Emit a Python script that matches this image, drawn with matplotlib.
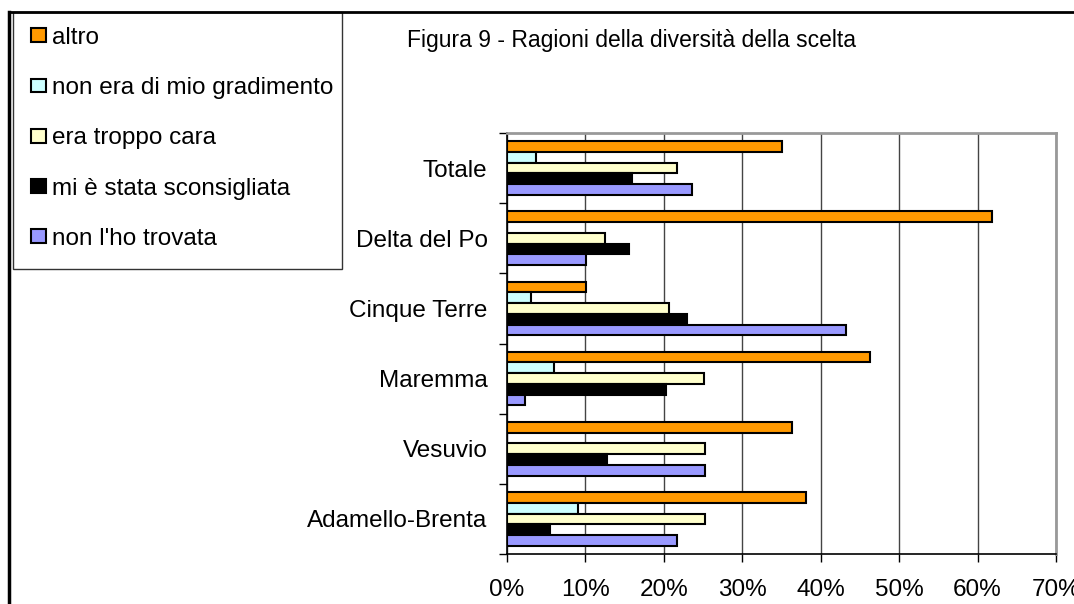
import matplotlib
matplotlib.use('Agg')
import matplotlib.pyplot as plt
import numpy as np
from matplotlib.ticker import PercentFormatter, FixedLocator
from matplotlib.patches import Rectangle
from matplotlib.lines import Line2D

plt.rcParams['font.family'] = ['Liberation Sans', 'DejaVu Sans']

categories = ['Adamello-Brenta', 'Vesuvio', 'Maremma', 'Cinque Terre', 'Delta del Po', 'Totale']
series_names = ['altro', 'non era di mio gradimento', 'era troppo cara',
                'mi è stata sconsigliata', "non l'ho trovata"]
altro = [38.1, 36.4, 46.3, 10.1, 61.8, 35.0]
non_gradimento = [9.1, 0.0, 6.0, 3.1, 0.0, 3.7]
troppo_cara = [25.3, 25.3, 25.1, 20.7, 12.5, 21.7]
sconsigliata = [5.5, 12.8, 20.3, 23.0, 15.5, 16.0]
non_trovata = [21.7, 25.3, 2.3, 43.2, 10.1, 23.6]
colors = ['#FF9900', '#CCFFFF', '#FFFFCC', '#000000', '#9999FF']

W, H = 1074, 604
fig = plt.figure(figsize=(W / 100, H / 100), dpi=100)
ax = fig.add_axes([507 / W, 1 - 554 / H, (1056 - 507) / W, (554 - 133) / H])

y = np.arange(len(categories))
h = 0.153
handles = []
for i, (vals, col, name) in enumerate(zip(
        [altro, non_gradimento, troppo_cara, sconsigliata, non_trovata], colors, series_names)):
    b = ax.barh(y + (2 - i) * h, vals, height=h, color=col, edgecolor='black',
                linewidth=1.5, label=name, zorder=3)
    handles.append(b)

ax.set_xlim(0, 70)
ax.set_ylim(-0.5, len(categories) - 0.5)
ax.xaxis.set_major_locator(FixedLocator(np.arange(0, 71, 10)))
ax.xaxis.set_major_formatter(PercentFormatter(decimals=0))
ax.set_yticks(y)
ax.set_yticklabels(categories)
ax.set_yticks(np.arange(-0.5, len(categories)), minor=True)
ax.tick_params(axis='y', which='major', length=0, pad=14, labelsize=17.5)
ax.tick_params(axis='y', which='minor', length=6, width=1, color='black')
ax.tick_params(axis='x', length=6, width=1, pad=12, labelsize=17.5)
ax.grid(axis='x', color='#444444', linewidth=1, zorder=0)

for s in ['top', 'right']:
    ax.spines[s].set_color('#999999')
    ax.spines[s].set_linewidth(2)
for s in ['left', 'bottom']:
    ax.spines[s].set_color('black')
    ax.spines[s].set_linewidth(1.2)

fig.text(407 / W, 1 - 40 / H, 'Figura 9 - Ragioni della diversità della scelta',
         ha='left', va='center', fontsize=16.5)

# outer frame and legend box
fig.add_artist(Line2D([9 / W, 9 / W], [0, 1 - 12 / H], color='black', linewidth=2.5))
fig.add_artist(Line2D([9 / W, 1], [1 - 12 / H, 1 - 12 / H], color='black', linewidth=2))
fig.add_artist(Rectangle((13 / W, 1 - 269 / H), (342 - 13) / W, (269 - 12) / H,
                         transform=fig.transFigure, fill=False, edgecolor='#333333', linewidth=1))

fig.legend(handles=handles, loc='upper left', bbox_to_anchor=(31 / W, 1 - 27 / H),
           frameon=False, fontsize=17.5, borderpad=0, borderaxespad=0,
           handlelength=0.6, handleheight=0.5, handletextpad=0.25, labelspacing=1.16)

fig.savefig('out.png', dpi=100)
